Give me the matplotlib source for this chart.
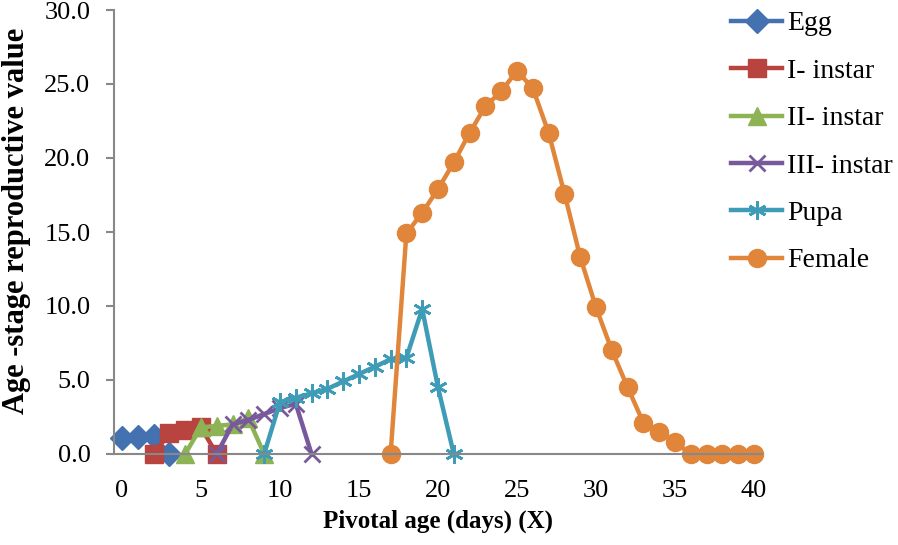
import matplotlib
matplotlib.use("Agg")
import matplotlib.pyplot as plt

# Age-stage reproductive value per stage
egg_x = [0, 1, 2, 3]
egg_y = [1.07, 1.12, 1.2, 0.0]

inst1_x = [2, 3, 4, 5, 6]
inst1_y = [0.0, 1.4, 1.6, 1.8, 0.0]

inst2_x = [4, 5, 6, 7, 8, 9]
inst2_y = [0.0, 1.8, 1.9, 2.0, 2.4, 0.0]

inst3_x = [6, 7, 8, 9, 10, 11, 12]
inst3_y = [0.0, 2.0, 2.3, 2.7, 3.1, 3.4, 0.0]

pupa_x = [9, 10, 11, 12, 13, 14, 15, 16, 17, 18, 19, 20, 21]
pupa_y = [0.0, 3.5, 3.8, 4.1, 4.4, 4.9, 5.4, 5.9, 6.4, 6.5, 9.8, 4.5, 0.0]

female_x = list(range(17, 41))
female_y = [0.0, 14.9, 16.3, 17.9, 19.7, 21.7, 23.5, 24.5, 25.9, 24.7, 21.7,
            17.6, 13.3, 9.9, 7.0, 4.5, 2.1, 1.5, 0.8, 0.0, 0.0, 0.0, 0.0, 0.0]

labels = ["Egg", "I- instar", "II- instar", "III- instar", "Pupa", "Female"]
colors = ["#4472B0", "#B8433F", "#8DB354", "#77599C", "#3E9CB6", "#E0853A"]

plt.rcParams["font.family"] = ["Liberation Serif", "DejaVu Serif"]

fig = plt.figure(figsize=(8.98, 5.45), dpi=100)
ax = fig.add_axes([114 / 898, 1 - 454 / 545, (762 - 114) / 898, (454 - 10) / 545])

lw = 3.2
ax.plot(egg_x, egg_y, color=colors[0], lw=lw, marker="D", ms=12, label=labels[0], clip_on=False)
ax.plot(inst1_x, inst1_y, color=colors[1], lw=lw, marker="s", ms=13, label=labels[1], clip_on=False)
ax.plot(inst2_x, inst2_y, color=colors[2], lw=lw, marker="^", ms=13, label=labels[2], clip_on=False)
ax.plot(inst3_x, inst3_y, color=colors[3], lw=lw, marker="x", ms=12, mew=2, label=labels[3], clip_on=False)
ax.plot(pupa_x, pupa_y, color=colors[4], lw=lw, marker=(6, 2, 0), ms=13, mew=2, label=labels[4], clip_on=False)
ax.plot(female_x, female_y, color=colors[5], lw=lw, marker="o", ms=13, label=labels[5], clip_on=False)

ax.set_xlim(-0.5, 40.5)
ax.set_ylim(0, 30)
ax.set_xticks(range(0, 41, 5))
ax.set_yticks(range(0, 31, 5))
ax.set_yticklabels(["%.1f" % v for v in range(0, 31, 5)])

for s in ["top", "right"]:
    ax.spines[s].set_visible(False)
for s in ["left", "bottom"]:
    ax.spines[s].set_color("#888888")
    ax.spines[s].set_linewidth(1.5)

ax.tick_params(axis="x", length=0, pad=18.5, labelsize=19)
ax.tick_params(axis="y", length=6, width=1.5, color="#888888", pad=11, labelsize=19)

ax.set_xlabel("Pivotal age (days) (X)", fontsize=18, fontweight="bold", va="top")
ax.xaxis.set_label_coords(0.5, -(510 - 454) / 444)
ax.set_ylabel("Age -stage reproductive value", fontsize=22, fontweight="bold")
ax.yaxis.set_label_coords((31 - 114) / 648, 0.525)

fig.legend(loc="upper left", bbox_to_anchor=(731 / 898, 1 - 11 / 545),
           frameon=False, fontsize=20, handlelength=1.85, handletextpad=0.18,
           labelspacing=0.79, borderpad=0, borderaxespad=0)

fig.savefig("out.png", dpi=100)
